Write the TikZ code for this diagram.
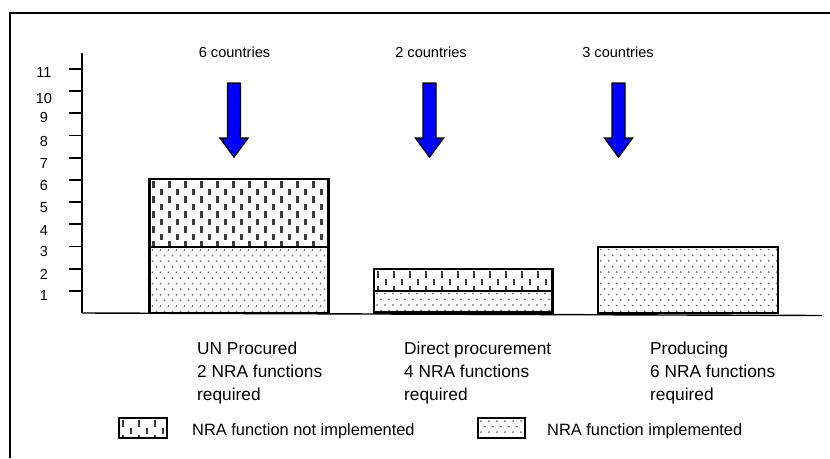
\documentclass[tikz,border=0pt]{standalone}
\usepackage{fontspec}
\setmainfont{Liberation Sans}
\definecolor{dashcol}{HTML}{3C3C3C}
\definecolor{dotcol}{HTML}{6E6E6E}
\definecolor{arrowblue}{HTML}{0000FF}
\newcommand\nradashes[4]{%
  \begin{scope}
    \clip (#1,#2) rectangle (#3,#4);
    \foreach \i in {0,...,23}{\foreach \j in {-1,...,5}{
      \fill[dashcol] ({#1+2.8+8*\i},{#2+2+15*\j+7.5*mod(\i,2)}) rectangle ++(2.4,6.5);}}
  \end{scope}}
\newcommand\nradots[4]{%
  \begin{scope}
    \clip (#1,#2) rectangle (#3,#4);
    \foreach \i in {0,...,23}{\foreach \j in {0,...,12}{
      \fill[dotcol] ({#1+3+8*\i+4*mod(\j,2)},{#2+3+5.6*\j}) circle (1);}}
  \end{scope}}
\begin{document}
\begin{tikzpicture}[x=1pt,y=-1pt,
  frameline/.style={line width=1.7pt},
  axisline/.style={line width=1.8pt},
  baseline/.style={line width=1.4pt},
  barbox/.style={draw, line width=2.3pt, inner sep=0pt, outer sep=0pt, anchor=north west},
  toplabel/.style={font=\fontsize{14.6}{17}\selectfont, inner sep=0pt},
  ticklabel/.style={font=\fontsize{14.5}{17}\selectfont, inner sep=0pt},
  catlabel/.style={font=\fontsize{17.3}{23.3}\selectfont, align=left, inner sep=0pt, anchor=north west},
  legendlabel/.style={font=\fontsize{16.4}{19}\selectfont, inner sep=0pt, anchor=west},
  arrowline/.style={draw=black, line width=1.4pt, fill=arrowblue, line join=miter},
  pics/bluedown/.style={code={
    \draw[arrowline] (-6.5,0) -- (6.5,0) -- (6.5,55) -- (14,55) -- (0,74)
      -- (-14,55) -- (-6.5,55) -- cycle;}}
]
\useasboundingbox (0,0) rectangle (830,458);

% frame (cropped)
\draw[frameline] (10,458) -- (10,13) -- (830,13);

% y axis
\coordinate (axtop) at (82,52.7);
\coordinate (axorigin) at (82,313);
\coordinate (baseend) at (822,315.5);
\draw[axisline] (axtop) -- (axorigin);
\draw[baseline] (axorigin) -- (baseend);
\foreach \k in {1,...,11}{
  \coordinate (tick\k) at (82,{313-22.2*\k});
  \draw[axisline] (tick\k) -- ++(-13.5,0);
}
\foreach \k/\dy in {1/5,2/6,3/5,4/6,5/6,6/6,7/6,8/6,9/4,10/7.5,11/3.5}{
  \node[ticklabel] (tl\k) at (44,{313-22.2*\k+\dy}) {\k};
}

% bar fills
\nradots{149.5}{247}{328.5}{313}
\nradashes{149.5}{179}{328.5}{247}
\nradots{374}{290.7}{552.5}{312.5}
\nradashes{374}{269}{552.5}{290.7}
\nradots{597.7}{246.7}{778.3}{312.7}
% bars
\node[barbox, minimum width=179, minimum height=66] (b1low) at (149.5,247) {};
\node[barbox, minimum width=179, minimum height=68] (b1up) at (149.5,179) {};
\node[barbox, minimum width=178.5, minimum height=21.8] (b2low) at (374,290.7) {};
\node[barbox, minimum width=178.5, minimum height=21.7] (b2up) at (374,269) {};
\node[barbox, minimum width=180.6, minimum height=66] (b3) at (597.7,246.7) {};

% top labels and arrows
\node[toplabel] (c1) at (234.5,52) {6 countries};
\node[toplabel] (c2) at (431,52) {2 countries};
\node[toplabel] (c3) at (618,52) {3 countries};
\pic at (234,83) {bluedown};
\pic at (429.5,83) {bluedown};
\pic at (618.5,83) {bluedown};

% category labels
\node[catlabel] (l1) at (197,341.5) {UN Procured\\2 NRA functions\\required};
\node[catlabel] (l2) at (404,341.5) {Direct procurement\\4 NRA functions\\required};
\node[catlabel] (l3) at (650,341.5) {Producing\\6 NRA functions\\required};

% legend
\nradashes{119}{418}{167}{438}
\nradots{478}{418}{525}{438}
\node[barbox, minimum width=48, minimum height=20] (leg1) at (119,418) {};
\node[legendlabel] (legt1) at (192,431) {NRA function not implemented};
\node[barbox, minimum width=47, minimum height=20] (leg2) at (478,418) {};
\node[legendlabel] (legt2) at (547,431) {NRA function implemented};
\end{tikzpicture}
\end{document}
